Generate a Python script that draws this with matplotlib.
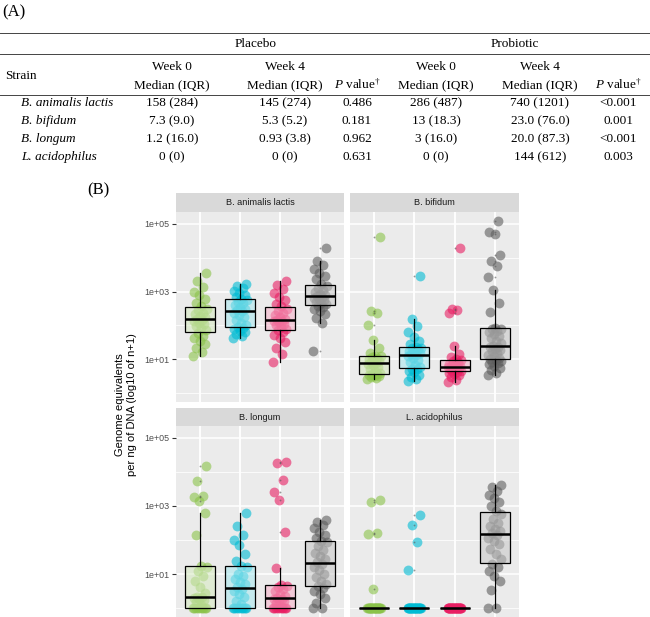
import numpy as np
import matplotlib
matplotlib.use("Agg")
import matplotlib.pyplot as plt

plt.rcParams['mathtext.fontset'] = 'custom'
plt.rcParams['mathtext.rm'] = 'Liberation Serif'
plt.rcParams['mathtext.it'] = 'Liberation Serif:italic'

# ---------------- (A) table ----------------
table_strains = ["B. animalis lactis", "B. bifidum", "B. longum", "L. acidophilus"]
placebo_wk0 = ["158 (284)", "7.3 (9.0)", "1.2 (16.0)", "0 (0)"]
placebo_wk4 = ["145 (274)", "5.3 (5.2)", "0.93 (3.8)", "0 (0)"]
placebo_p = ["0.486", "0.181", "0.962", "0.631"]
probiotic_wk0 = ["286 (487)", "13 (18.3)", "3 (16.0)", "0 (0)"]
probiotic_wk4 = ["740 (1201)", "23.0 (76.0)", "20.0 (87.3)", "144 (612)"]
probiotic_p = ["<0.001", "0.001", "<0.001", "0.003"]

# ---------------- (B) log10(n+1) per sample ----------------
strains = ["B. animalis lactis", "B. bifidum", "B. longum", "L. acidophilus"]
colors = ["#8BC34A", "#00BCD4", "#E91E63", "#5E5E5E"]  # placebo wk0, probiotic wk0, placebo wk4, probiotic wk4

animalis = [
    [1.10, 1.22, 1.35, 1.45, 1.55, 1.62, 1.70, 1.78, 1.86, 1.92, 1.98, 2.03, 2.08, 2.12, 2.16,
     2.20, 2.24, 2.28, 2.33, 2.38, 2.45, 2.50, 2.56, 2.66, 2.78, 2.90, 3.00, 3.12, 3.30, 3.55],
    [1.62, 1.68, 1.74, 1.80, 1.85, 1.90, 1.94, 1.96, 2.00, 2.08, 2.16, 2.24, 2.30, 2.36, 2.42,
     2.46, 2.50, 2.55, 2.60, 2.65, 2.70, 2.74, 2.78, 2.84, 2.90, 2.96, 3.02, 3.10, 3.17, 3.23],
    [0.93, 1.15, 1.35, 1.50, 1.62, 1.72, 1.80, 1.86, 1.90, 1.95, 2.00, 2.05, 2.09, 2.12, 2.14,
     2.16, 2.20, 2.25, 2.30, 2.36, 2.42, 2.50, 2.56, 2.64, 2.74, 2.84, 2.96, 3.08, 3.20, 3.32],
    [1.26, 2.07, 2.22, 2.35, 2.44, 2.50, 2.55, 2.58, 2.62, 2.66, 2.70, 2.74, 2.78, 2.82, 2.85,
     2.87, 2.90, 2.94, 2.98, 3.04, 3.10, 3.16, 3.22, 3.36, 3.46, 3.56, 3.66, 3.78, 3.91, 4.28],
]
bifidum = [
    [0.43, 0.45, 0.48, 0.50, 0.52, 0.54, 0.56, 0.575, 0.60, 0.66, 0.72, 0.78, 0.83, 0.87, 0.89,
     0.91, 0.94, 0.97, 1.00, 1.03, 1.06, 1.09, 1.11, 1.20, 1.35, 1.56, 2.00, 2.38, 2.44, 4.60],
    [0.36, 0.42, 0.48, 0.55, 0.62, 0.67, 0.71, 0.73, 0.77, 0.84, 0.92, 0.99, 1.05, 1.10, 1.13,
     1.15, 1.18, 1.22, 1.26, 1.30, 1.33, 1.35, 1.38, 1.45, 1.55, 1.66, 1.80, 1.98, 2.18, 3.47],
    [0.33, 0.40, 0.47, 0.53, 0.57, 0.60, 0.63, 0.645, 0.66, 0.69, 0.72, 0.74, 0.76, 0.78, 0.785,
     0.795, 0.82, 0.85, 0.88, 0.92, 0.96, 0.98, 1.00, 1.06, 1.15, 1.41, 2.38, 2.45, 2.50, 4.27],
    [0.53, 0.60, 0.68, 0.75, 0.81, 0.86, 0.90, 0.93, 0.96, 0.98, 1.00, 1.04, 1.09, 1.14, 1.19,
     1.24, 1.28, 1.32, 1.36, 1.38, 1.40, 1.48, 1.55, 1.62, 1.68, 1.74, 1.80, 1.85, 1.89, 1.91,
     1.93, 2.40, 2.65, 3.06, 3.44, 3.76, 3.91, 4.08, 4.70, 4.76, 5.09],
]
longum = [
    [0, 0, 0, 0, 0, 0, 0, 0, 0, 0.10, 0.18, 0.24, 0.28, 0.31, 0.32,
     0.34, 0.45, 0.62, 0.80, 0.95, 1.08, 1.20, 1.25, 2.15, 2.80, 3.15, 3.26, 3.30, 3.72, 4.18],
    [0, 0, 0, 0, 0, 0, 0, 0, 0, 0.12, 0.22, 0.32, 0.42, 0.50, 0.57,
     0.63, 0.70, 0.78, 0.86, 0.94, 1.02, 1.20, 1.25, 1.40, 1.60, 1.85, 2.00, 2.15, 2.40, 2.80],
    [0, 0, 0, 0, 0, 0, 0, 0, 0, 0.08, 0.15, 0.20, 0.24, 0.27, 0.28,
     0.30, 0.35, 0.42, 0.50, 0.57, 0.62, 0.66, 0.69, 1.18, 2.24, 3.18, 3.42, 3.76, 4.27, 4.30],
    [0.0, 0.0, 0.15, 0.30, 0.42, 0.52, 0.60, 0.64, 0.70, 0.80, 0.92, 1.02, 1.12, 1.22, 1.30,
     1.36, 1.44, 1.52, 1.62, 1.72, 1.84, 1.93, 1.97, 2.05, 2.15, 2.25, 2.35, 2.45, 2.52, 2.59],
]
acidophilus = [
    [0] * 25 + [0.58, 2.18, 2.22, 3.12, 3.18],
    [0] * 26 + [1.12, 1.93, 2.44, 2.74],
    [0] * 30,
    [0.0, 0.0, 0.55, 0.80, 0.95, 1.10, 1.22, 1.30, 1.45, 1.60, 1.75, 1.88, 1.98, 2.06, 2.14,
     2.20, 2.26, 2.32, 2.40, 2.50, 2.62, 2.76, 2.85, 3.00, 3.12, 3.22, 3.32, 3.45, 3.55, 3.62],
]
panel_data = [animalis, bifidum, longum, acidophilus]

W, H = 650, 617
fig = plt.figure(figsize=(W / 100, H / 100), dpi=100)


def rect(x0, y0, x1, y1):
    # pixel box (from top-left) -> figure fraction
    return [x0 / W, 1 - y1 / H, (x1 - x0) / W, (y1 - y0) / H]


# ---------- table ----------
ax_t = fig.add_axes([0, 0, 1, 1])
ax_t.set_xlim(0, W)
ax_t.set_ylim(H, 0)
ax_t.axis('off')
serif = 'Liberation Serif'
fs = 9.5
ax_t.text(2, 12, "(A)", fontsize=12, family=serif, va='center', ha='left')
for yy in [33, 54, 95]:
    ax_t.plot([0, W], [yy, yy], color='#444444', lw=0.7)

cols = [172, 285, 357, 436, 540, 618]
ax_t.text(256, 44, "Placebo", fontsize=fs, family=serif, ha='center', va='center')
ax_t.text(515, 44, "Probiotic", fontsize=fs, family=serif, ha='center', va='center')
ax_t.text(5, 76, "Strain", fontsize=fs, family=serif, ha='left', va='center')
for c, wk in zip([cols[0], cols[1], cols[3], cols[4]], ["Week 0", "Week 4", "Week 0", "Week 4"]):
    ax_t.text(c, 67, wk, fontsize=fs, family=serif, ha='center', va='center')
    ax_t.text(c, 85, "Median (IQR)", fontsize=fs, family=serif, ha='center', va='center')
for c in [cols[2], cols[5]]:
    ax_t.text(c, 85, r"$\mathit{P}$ value$^{\dagger}$", fontsize=fs, family=serif,
              ha='center', va='center')

columns = [placebo_wk0, placebo_wk4, placebo_p, probiotic_wk0, probiotic_wk4, probiotic_p]
for i, s in enumerate(table_strains):
    yy = 103 + 18 * i
    ax_t.text(21, yy, s, fontsize=fs, family=serif, style='italic', ha='left', va='center')
    for c, col in zip(cols, columns):
        ax_t.text(c, yy, col[i], fontsize=fs, family=serif, ha='center', va='center')

ax_t.text(87, 190, "(B)", fontsize=12, family=serif, va='center', ha='left')

# ---------- facets ----------
panels = [(176, 344, 193, 212, 402), (350, 519, 193, 212, 402),
          (176, 344, 408, 426, 617), (350, 519, 408, 426, 617)]
sans = 'Liberation Sans'
n_max = max(len(g) for p in panel_data for g in p)
jit = ((np.arange(n_max) * 0.618034) % 1.0 - 0.5) * 0.34

for k, (x0, x1, ys, y0, y1) in enumerate(panels):
    sax = fig.add_axes(rect(x0, ys, x1, y0))
    sax.set_facecolor('#D9D9D9')
    sax.set_xticks([])
    sax.set_yticks([])
    for sp in sax.spines.values():
        sp.set_visible(False)
    sax.text(0.5, 0.5, strains[k], transform=sax.transAxes, ha='center', va='center',
             fontsize=6.6, color='#1A1A1A', family=sans)

    ax = fig.add_axes(rect(x0, y0, x1, y1))
    ax.set_facecolor('#EBEBEB')
    for sp in ax.spines.values():
        sp.set_visible(False)
    ax.set_xlim(0.4, 4.6)
    ax.set_ylim(-0.2545, 5.3445)
    ax.set_yticks([1, 3, 5])
    ax.set_yticks([0, 2, 4], minor=True)
    ax.set_xticks([1, 2, 3, 4])
    ax.set_axisbelow(True)
    ax.grid(which='major', color='white', lw=1.1)
    ax.grid(which='minor', axis='y', color='white', lw=0.55)
    ax.tick_params(axis='x', length=0, labelbottom=False)
    ax.tick_params(axis='y', which='minor', length=0)
    if k % 2 == 0:
        ax.set_yticklabels(["1e+01", "1e+03", "1e+05"])
        ax.tick_params(axis='y', which='major', length=3, width=0.8, color='#333333',
                       labelsize=6.4, labelcolor='#4D4D4D', pad=1.5)
        for lab in ax.get_yticklabels():
            lab.set_family(sans)
    else:
        ax.tick_params(axis='y', which='major', length=0, labelleft=False)

    data = panel_data[k]
    for j, vals in enumerate(data):
        ax.scatter(j + 1 + jit[:len(vals)], vals, s=50, color=colors[j], alpha=0.6,
                   linewidths=0, zorder=2)

    bp = ax.boxplot(data, positions=[1, 2, 3, 4], widths=0.75, patch_artist=True,
                    whis=1.5, showcaps=False,
                    medianprops=dict(color='black', lw=1.8),
                    boxprops=dict(edgecolor='black', lw=0.9),
                    whiskerprops=dict(color='black', lw=0.9),
                    flierprops=dict(marker='o', markersize=1.3, markeredgecolor='none',
                                    markerfacecolor='#555555', alpha=0.6),
                    zorder=3)
    for j, patch in enumerate(bp['boxes']):
        c = np.array(matplotlib.colors.to_rgb(colors[j]))
        light = 0.35 * c + 0.65 * np.ones(3)
        patch.set_facecolor((*light, 0.55))

fig.text(126 / W, 1 - 405 / H, "Genome equivalents\nper ng of DNA (log10 of n+1)",
         rotation=90, ha='center', va='center', fontsize=8, linespacing=1.3,
         family=sans, color='black')

fig.savefig("out.png", dpi=100)
